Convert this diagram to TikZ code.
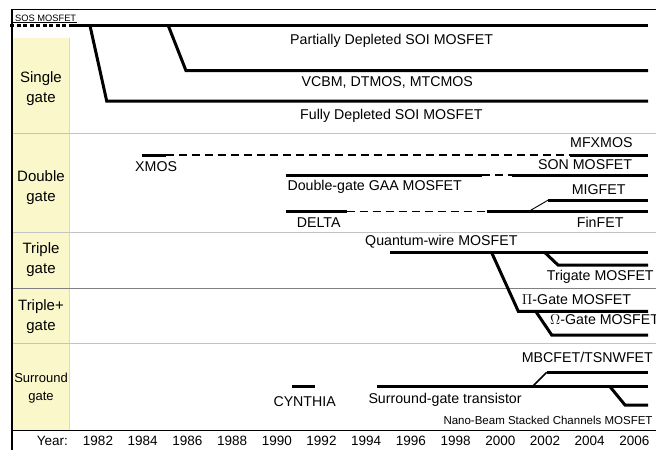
\documentclass[tikz,border=0pt]{standalone}
\usepackage{fontspec}
\setmainfont{Liberation Sans}
\usepackage{xcolor}
\usepackage{tikz}
\usetikzlibrary{positioning}
\definecolor{gateyellow}{RGB}{250,247,202}
\definecolor{gateedge}{RGB}{226,222,170}
\definecolor{rowgray}{RGB}{195,195,195}

\begin{document}
\begin{tikzpicture}[
    x=1pt, y=-1pt,
    devlabel/.style={font=\fontsize{14.2}{16}\selectfont, anchor=west, inner sep=0pt, text height=0.716em, text depth=0pt},
    smalllabel/.style={devlabel, font=\fontsize{11.5}{13}\selectfont},
    soslabel/.style={devlabel, font=\fontsize{9.3}{11}\selectfont},
    rowlabel/.style={font=\fontsize{15}{20}\selectfont, align=center, inner sep=0pt},
    yearlabel/.style={font=\fontsize{13.5}{15}\selectfont, inner sep=0pt, text height=0.716em, text depth=0pt},
    track/.style={line width=3pt},
    gap/.style={line width=1.3pt, dash pattern=on 8pt off 5pt},
    sosline/.style={line width=2.6pt, dash pattern=on 4pt off 2.5pt},
    thinbranch/.style={line width=0.9pt},
    rowline/.style={draw=rowgray, line width=1pt}
]
\useasboundingbox (0,0) rectangle (656,450);

% Frame
\fill[gateyellow] (12,38) rectangle (69,430.7);
\draw[gateedge, line width=0.8pt] (69,38) -- (69,430.7);
\draw[rowline] (12,133) -- (656,133);
\draw[rowline] (12,232) -- (656,232);
\draw[rowline, draw=gray] (12,288) -- (656,288);
\draw[rowline] (12,343) -- (656,343);
\draw[line width=1pt] (12,9.3) -- (656,9.3);
\draw[line width=1.3pt] (12,9.3) -- (12,450);
\draw[line width=1.3pt] (12,430.7) -- (656,430.7);

% Row labels
\node[rowlabel] (single) at (41,89) {Single\\gate};
\node[rowlabel] (double) at (41,188) {Double\\gate};
\node[rowlabel] (triple) at (41,260) {Triple\\gate};
\node[rowlabel] (tripleplus) at (41,317) {Triple+\\gate};
\node[rowlabel, font=\fontsize{13}{18}\selectfont] (surround) at (41,388) {Surround\\gate};

% Single gate
\node[soslabel] (sos) at (15,17.5) {SOS MOSFET};
\draw[line width=0.7pt] (12,22.7) -- (77,22.7);
\draw[sosline] (10,25.7) -- (70,25.7);
\draw[track] (70,25.7) -- (648,25.7);
\draw[track] (90,25.7) -- (106.7,101) -- (648,101);
\draw[track] (168.3,25.7) -- (186,70.7) -- (648,70.7);
\node[devlabel] (pd) at (290,41) {Partially Depleted SOI MOSFET};
\node[devlabel] (vcbm) at (301.5,82.5) {VCBM, DTMOS, MTCMOS};
\node[devlabel] (fd) at (300,115.5) {Fully Depleted SOI MOSFET};

% Double gate
\draw[track] (141.7,155) -- (165.7,155);
\draw[gap] (165.7,155) -- (570,155);
\draw[track] (570,155) -- (648,155);
\draw[track] (285.7,175) -- (481.7,175);
\draw[gap] (481.7,175) -- (511.7,175);
\draw[track] (511.7,175) -- (648,175);
\draw[track] (285.7,211.7) -- (346.7,211.7);
\draw[gap] (346.7,211.7) -- (486.7,211.7);
\draw[track] (486.7,211.7) -- (648,211.7);
\draw[thinbranch] (528.3,211.7) -- (548.3,200);
\draw[track] (548.3,200) -- (648,200);
\node[devlabel] (xmos) at (135,167.7) {XMOS};
\node[devlabel] (mfxmos) at (570,144) {MFXMOS};
\node[devlabel] (gaa) at (287.3,186.7) {Double-gate GAA MOSFET};
\node[devlabel] (son) at (538,166.2) {SON MOSFET};
\node[devlabel] (migfet) at (571.7,191.2) {MIGFET};
\node[devlabel] (delta) at (296.7,224.3) {DELTA};
\node[devlabel] (finfet) at (576.7,224.3) {FinFET};

% Triple and triple+ gate
\draw[track] (390,252.7) -- (648,252.7);
\draw[track] (545,252.7) -- (558,265) -- (648,265);
\draw[track] (491.7,252.7) -- (518.3,311.3) -- (648,311.3);
\draw[track] (535.7,311.3) -- (551.7,335) -- (648,335);
\node[devlabel] (qwire) at (365,241.7) {Quantum-wire MOSFET};
\node[devlabel] (trigate) at (546.7,276.7) {Trigate MOSFET};
\node[devlabel] (pigate) at (521.7,300.7) {$\Pi$-Gate MOSFET};
\node[devlabel] (omegagate) at (550,320.7) {$\Omega$-Gate MOSFET};

% Surround gate
\draw[track] (291.7,386.7) -- (315,386.7);
\draw[track] (376.7,386.7) -- (648,386.7);
\draw[line width=1.6pt] (532.3,386.7) -- (546.7,372.3);
\draw[track] (546.7,372.3) -- (648,372.3);
\draw[track] (610,386.7) -- (625,405) -- (648,405);
\node[devlabel] (cynthia) at (273.3,403.3) {CYNTHIA};
\node[devlabel] (sgt) at (368.3,400) {Surround-gate transistor};
\node[devlabel] (mbcfet) at (521.7,359.3) {MBCFET/TSNWFET};
\node[smalllabel] (nano) at (443.3,421) {Nano-Beam Stacked Channels MOSFET};

% Years
\node[yearlabel, anchor=east] (year) at (68,441.7) {Year:};
\node[yearlabel] (y1982) at (98,441.7) {1982};
\node[yearlabel] (y1984) at (142.7,441.7) {1984};
\node[yearlabel] (y1986) at (187.4,441.7) {1986};
\node[yearlabel] (y1988) at (232.1,441.7) {1988};
\node[yearlabel] (y1990) at (276.8,441.7) {1990};
\node[yearlabel] (y1992) at (321.5,441.7) {1992};
\node[yearlabel] (y1994) at (366.2,441.7) {1994};
\node[yearlabel] (y1996) at (410.9,441.7) {1996};
\node[yearlabel] (y1998) at (455.6,441.7) {1998};
\node[yearlabel] (y2000) at (500.3,441.7) {2000};
\node[yearlabel] (y2002) at (545,441.7) {2002};
\node[yearlabel] (y2004) at (589.7,441.7) {2004};
\node[yearlabel] (y2006) at (634.4,441.7) {2006};

\end{tikzpicture}
\end{document}
